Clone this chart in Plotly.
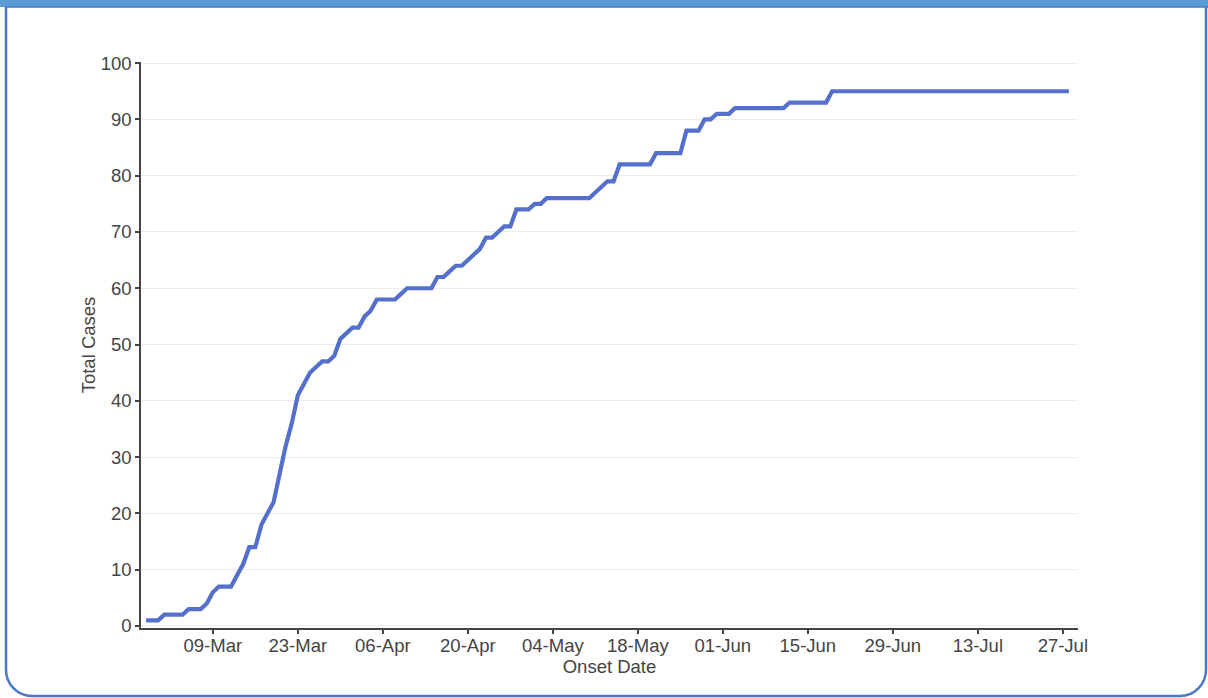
import plotly.graph_objects as go
import pandas as pd

# ---- data ----
start_date = "2020-02-27"
total_cases = (
    [1, 1, 1, 2, 2, 2, 2, 3, 3, 3, 4, 6, 7, 7, 7, 9, 11, 14, 14, 18, 20, 22,
     27, 32, 36, 41, 43, 45, 46, 47, 47, 48, 51, 52, 53, 53, 55, 56, 58, 58,
     58, 58, 59, 60, 60, 60, 60, 60, 62, 62, 63, 64, 64, 65, 66, 67, 69, 69,
     70, 71, 71, 74, 74, 74, 75, 75, 76]
    + [76] * 7
    + [77, 78, 79, 79, 82]
    + [82] * 5
    + [84]
    + [84] * 4
    + [88, 88, 88, 90, 90, 91, 91, 91]
    + [92] * 9
    + [93] * 7
    + [95] * 40
)
onset_dates = pd.date_range(start_date, periods=len(total_cases), freq="D")

tick_dates = ["2020-03-09", "2020-03-23", "2020-04-06", "2020-04-20", "2020-05-04",
              "2020-05-18", "2020-06-01", "2020-06-15", "2020-06-29", "2020-07-13",
              "2020-07-27"]
tick_labels = ["09-Mar", "23-Mar", "06-Apr", "20-Apr", "04-May", "18-May",
               "01-Jun", "15-Jun", "29-Jun", "13-Jul", "27-Jul"]
y_ticks = [0, 10, 20, 30, 40, 50, 60, 70, 80, 90, 100]

# ---- layout geometry (pixels) ----
W, H = 1208, 698
L, R, T, B = 141, 1078, 62, 628


def px(x):
    return (x - L) / (R - L)


def py(y):
    return (B - y) / (B - T)


fig = go.Figure()
fig.add_trace(go.Scatter(
    x=onset_dates, y=total_cases, mode="lines",
    line=dict(color="#5470CC", width=4.2),
    hoverinfo="x+y", showlegend=False,
))

font_col = "#444444"
fs = 18.5
fig.update_layout(
    width=W, height=H,
    margin=dict(l=L, r=W - R, t=T, b=H - B, pad=0),
    paper_bgcolor="white", plot_bgcolor="white",
    font=dict(family="Liberation Sans, Arial, sans-serif", size=fs, color=font_col),
    xaxis=dict(
        range=[pd.Timestamp("2020-02-26 04:00"), pd.Timestamp("2020-07-29 12:00")],
        tickvals=tick_dates, ticktext=tick_labels,
        showgrid=False, zeroline=False,
        showline=True, linecolor="#444444", linewidth=1.5,
        ticks="outside", ticklen=4, tickcolor="#444444", tickwidth=1.5,
        ticklabelstandoff=-4,
        tickfont=dict(size=fs, color=font_col),
        title=dict(text="Onset Date", font=dict(size=fs, color=font_col), standoff=2),
    ),
    yaxis=dict(
        range=[-0.36, 100.2],
        tickvals=y_ticks,
        showgrid=True, gridcolor="#ebebeb", gridwidth=1,
        zeroline=False,
        showline=True, linecolor="#444444", linewidth=1.5,
        ticks="outside", ticklen=4, tickcolor="#444444", tickwidth=1.5,
        tickfont=dict(size=fs, color=font_col),
        title=dict(text="Total Cases", font=dict(size=fs, color=font_col), standoff=0),
    ),
)

# card frame
r = 26
x0, x1, ybot = 6, 1206, 696
k = 0.55 * r
path = (
    f"M {px(x0)},{py(0)} L {px(x0)},{py(ybot - r)} "
    f"C {px(x0)},{py(ybot - r + k)} {px(x0 + r - k)},{py(ybot)} {px(x0 + r)},{py(ybot)} "
    f"L {px(x1 - r)},{py(ybot)} "
    f"C {px(x1 - r + k)},{py(ybot)} {px(x1)},{py(ybot - r + k)} {px(x1)},{py(ybot - r)} "
    f"L {px(x1)},{py(0)}"
)
fig.add_shape(type="path", xref="paper", yref="paper", path=path,
              line=dict(color="#4A78C8", width=2.5), fillcolor="rgba(0,0,0,0)",
              layer="below")
fig.add_shape(type="rect", xref="paper", yref="paper",
              x0=px(0), x1=px(W), y0=py(7), y1=py(-2),
              line=dict(width=0), fillcolor="#5B9BD5", layer="below")
fig.add_shape(type="line", xref="paper", yref="paper",
              x0=px(5), x1=px(W), y0=py(7), y1=py(7),
              line=dict(color="#4A78C8", width=1.5), layer="below")

fig.write_html(
    "out.html",
    config={"displayModeBar": False},
    post_script="document.body.style.margin='0';document.body.style.overflow='hidden';",
)
